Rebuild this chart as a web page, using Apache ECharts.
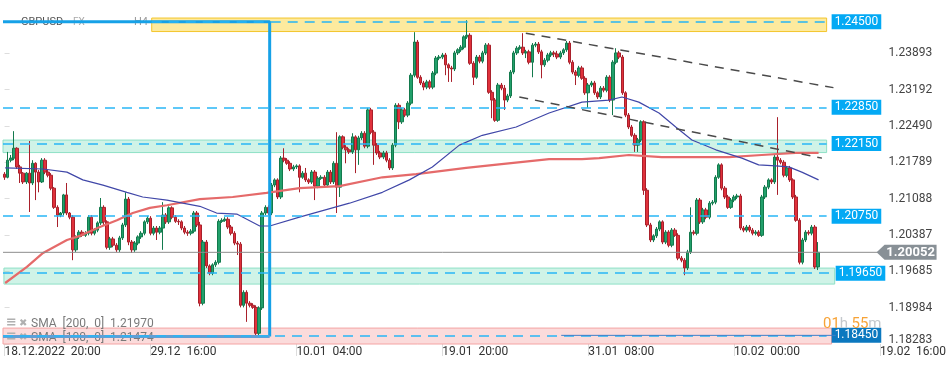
<!DOCTYPE html>
<html><head><meta charset="utf-8">
<script src="https://cdn.jsdelivr.net/npm/echarts@6/dist/echarts.min.js"></script>
<style>html,body{margin:0;padding:0;background:#fff}#c{width:949px;height:370px}</style>
</head><body><div id="c"></div>
<script>
// ---- data (GBPUSD, H4) ----
const firstOpen = 1.2156;
const closes = [
1.2150,1.2183,1.2187,1.2206,1.2170,1.2158,1.2141,1.2158,1.2139,1.2177,
1.2160,1.2141,1.2183,1.2160,1.2154,1.2129,1.2092,1.2077,1.2081,1.2116,
1.2081,1.2073,1.2010,1.2035,1.2044,1.2038,1.2042,1.2073,1.2042,1.2048,
1.2062,1.2092,1.2064,1.2015,1.2031,1.2019,1.2010,1.2033,1.2058,1.2108,
1.2025,1.2010,1.2023,1.2035,1.2042,1.2064,1.2071,1.2042,1.2052,1.2044,
1.2052,1.2077,1.2064,1.2091,1.2073,1.2065,1.2064,1.2052,1.2044,1.2042,
1.2046,1.2081,1.2058,1.1907,1.2025,1.1979,1.1965,1.1981,1.1986,1.2065,
1.2067,1.2069,1.2054,1.2042,1.2023,1.2021,1.1903,1.1928,1.1907,1.1903,
1.1899,1.1849,1.1898,1.2081,1.2092,1.2081,1.2135,1.2145,1.2112,1.2187,
1.2183,1.2177,1.2166,1.2170,1.2172,1.2150,1.2158,1.2145,1.2141,1.2160,
1.2133,1.2148,1.2150,1.2135,1.2160,1.2141,1.2177,1.2131,1.2228,1.2208,
1.2203,1.2199,1.2228,1.2203,1.2226,1.2235,1.2210,1.2280,1.2237,1.2212,
1.2197,1.2189,1.2197,1.2183,1.2168,1.2212,1.2289,1.2257,1.2280,1.2270,
1.2293,1.2347,1.2411,1.2343,1.2332,1.2324,1.2334,1.2324,1.2351,1.2380,
1.2382,1.2386,1.2367,1.2361,1.2359,1.2390,1.2396,1.2401,1.2421,1.2424,
1.2370,1.2343,1.2382,1.2374,1.2390,1.2405,1.2314,1.2299,1.2260,1.2328,
1.2322,1.2299,1.2307,1.2353,1.2390,1.2399,1.2401,1.2390,1.2392,1.2372,
1.2405,1.2407,1.2392,1.2367,1.2376,1.2386,1.2390,1.2388,1.2382,1.2390,
1.2396,1.2409,1.2372,1.2353,1.2347,1.2361,1.2341,1.2313,1.2328,1.2332,
1.2313,1.2305,1.2322,1.2318,1.2343,1.2299,1.2372,1.2390,1.2382,1.2313,
1.2270,1.2247,1.2231,1.2212,1.2222,1.2257,1.2125,1.2058,1.2029,1.2037,
1.2050,1.2064,1.2025,1.2044,1.2019,1.2048,1.2038,1.1994,1.1990,1.1975,
1.2006,1.2044,1.2042,1.2106,1.2064,1.2087,1.2073,1.2100,1.2102,1.2150,
1.2174,1.2129,1.2112,1.2092,1.2106,1.2112,1.2114,1.2052,1.2048,1.2054,
1.2048,1.2042,1.2044,1.2038,1.2112,1.2131,1.2145,1.2141,1.2189,1.2183,
1.2179,1.2154,1.2168,1.2145,1.2112,1.2067,1.1986,1.2029,1.2044,1.2042,
1.2054,1.1977,1.20052];
const highs = [
1.2160,1.2199,1.2193,1.2239,1.2208,1.2174,1.2160,1.2160,1.2220,1.2183,
1.2179,1.2164,1.2187,1.2187,1.2164,1.2158,1.2131,1.2096,1.2083,1.2118,
1.2139,1.2083,1.2077,1.2038,1.2048,1.2048,1.2046,1.2077,1.2077,1.2052,
1.2065,1.2110,1.2096,1.2067,1.2035,1.2035,1.2023,1.2037,1.2062,1.2121,
1.2112,1.2029,1.2027,1.2038,1.2046,1.2067,1.2075,1.2075,1.2056,1.2056,
1.2056,1.2102,1.2081,1.2094,1.2094,1.2077,1.2069,1.2067,1.2056,1.2048,
1.2050,1.2085,1.2085,1.2064,1.2029,1.2029,1.1982,1.1984,1.1990,1.2069,
1.2071,1.2073,1.2073,1.2058,1.2046,1.2027,1.2025,1.1932,1.1932,1.1911,
1.1907,1.1903,1.1901,1.2085,1.2096,1.2096,1.2139,1.2148,1.2148,1.2191,
1.2206,1.2187,1.2181,1.2174,1.2175,1.2175,1.2162,1.2168,1.2148,1.2164,
1.2164,1.2152,1.2154,1.2154,1.2164,1.2164,1.2181,1.2237,1.2231,1.2231,
1.2212,1.2206,1.2235,1.2231,1.2230,1.2239,1.2239,1.2284,1.2284,1.2241,
1.2216,1.2201,1.2201,1.2201,1.2187,1.2216,1.2293,1.2293,1.2284,1.2284,
1.2297,1.2351,1.2430,1.2415,1.2347,1.2336,1.2338,1.2338,1.2355,1.2384,
1.2386,1.2390,1.2390,1.2370,1.2365,1.2394,1.2399,1.2405,1.2424,1.2453,
1.2428,1.2374,1.2386,1.2386,1.2394,1.2409,1.2409,1.2318,1.2303,1.2332,
1.2332,1.2328,1.2311,1.2357,1.2394,1.2403,1.2405,1.2428,1.2396,1.2396,
1.2409,1.2411,1.2411,1.2396,1.2380,1.2390,1.2394,1.2394,1.2394,1.2394,
1.2399,1.2413,1.2413,1.2376,1.2357,1.2365,1.2365,1.2345,1.2332,1.2336,
1.2336,1.2316,1.2326,1.2326,1.2347,1.2347,1.2376,1.2399,1.2394,1.2386,
1.2316,1.2274,1.2251,1.2235,1.2226,1.2260,1.2260,1.2129,1.2062,1.2040,
1.2054,1.2067,1.2067,1.2048,1.2048,1.2052,1.2052,1.2042,1.1998,1.1994,
1.2010,1.2092,1.2048,1.2110,1.2110,1.2091,1.2091,1.2104,1.2106,1.2154,
1.2177,1.2177,1.2133,1.2116,1.2110,1.2116,1.2118,1.2118,1.2056,1.2058,
1.2058,1.2052,1.2048,1.2048,1.2116,1.2135,1.2148,1.2148,1.2193,1.2266,
1.2187,1.2183,1.2172,1.2172,1.2148,1.2116,1.2071,1.2033,1.2048,1.2048,
1.2058,1.2058,1.2025];
const lows = [
1.2145,1.2148,1.2179,1.2183,1.2166,1.2139,1.2137,1.2137,1.2083,1.2135,
1.2106,1.2121,1.2139,1.2156,1.2150,1.2125,1.2089,1.2054,1.2073,1.2077,
1.2077,1.2069,1.1990,1.2006,1.2031,1.2035,1.2035,1.2038,1.2038,1.2038,
1.2044,1.2058,1.2058,1.2011,1.2010,1.2015,1.2006,1.2006,1.2029,1.2054,
1.2019,1.2004,1.2006,1.2019,1.2031,1.2038,1.2060,1.2038,1.2038,1.2029,
1.2040,1.2010,1.2060,1.2060,1.2069,1.2062,1.2058,1.2048,1.2040,1.2037,
1.2038,1.2042,1.2054,1.1901,1.1903,1.1975,1.1961,1.1961,1.1977,1.1982,
1.2062,1.2064,1.2050,1.2038,1.2019,1.2000,1.1899,1.1899,1.1871,1.1899,
1.1896,1.1845,1.1845,1.1894,1.2077,1.2077,1.2077,1.2131,1.2108,1.2108,
1.2179,1.2174,1.2162,1.2162,1.2166,1.2121,1.2147,1.2141,1.2137,1.2137,
1.2106,1.2129,1.2145,1.2131,1.2131,1.2137,1.2137,1.2081,1.2112,1.2204,
1.2177,1.2195,1.2195,1.2158,1.2174,1.2222,1.2206,1.2206,1.2233,1.2174,
1.2193,1.2185,1.2185,1.2179,1.2164,1.2164,1.2208,1.2243,1.2253,1.2266,
1.2266,1.2289,1.2343,1.2340,1.2328,1.2318,1.2320,1.2320,1.2320,1.2347,
1.2376,1.2378,1.2347,1.2334,1.2334,1.2355,1.2386,1.2392,1.2397,1.2417,
1.2367,1.2328,1.2340,1.2370,1.2370,1.2386,1.2311,1.2264,1.2257,1.2257,
1.2318,1.2280,1.2295,1.2303,1.2349,1.2386,1.2396,1.2386,1.2380,1.2368,
1.2343,1.2401,1.2388,1.2341,1.2363,1.2372,1.2382,1.2382,1.2378,1.2378,
1.2386,1.2392,1.2368,1.2349,1.2328,1.2343,1.2338,1.2309,1.2284,1.2324,
1.2309,1.2301,1.2301,1.2314,1.2314,1.2295,1.2270,1.2368,1.2378,1.2309,
1.2266,1.2243,1.2228,1.2199,1.2199,1.2218,1.2116,1.2054,1.2025,1.2025,
1.2033,1.2046,1.2021,1.2021,1.2015,1.2015,1.2035,1.1990,1.1986,1.1961,
1.1971,1.2002,1.2038,1.2038,1.2060,1.2060,1.2069,1.2069,1.2096,1.2098,
1.2147,1.2125,1.2108,1.2089,1.2089,1.2102,1.2108,1.2048,1.2044,1.2044,
1.2044,1.2038,1.2038,1.2035,1.2035,1.2108,1.2127,1.2137,1.2137,1.2116,
1.2175,1.2150,1.2150,1.2141,1.2108,1.2064,1.1982,1.1982,1.2025,1.2038,
1.2038,1.1973,1.1971];

// moving averages: [bar, price]
const sma200 = [[0.2,1.1946],[7.2,1.1977],[12.4,1.2004],[20.1,1.2029],[24.3,1.2037],[30.7,1.2054],[36.2,1.2067],[41.3,1.2081],[46.8,1.2091],[52.3,1.2096],[62.9,1.2108],[73.5,1.2112],[84.4,1.2120],[95,1.2129],[107.9,1.2133],[121.7,1.2150],[132.6,1.2156],[148.7,1.2168],[159.3,1.2175],[175.4,1.2185],[186,1.2185],[191.5,1.2187],[201.1,1.2193],[211.7,1.2189],[222.7,1.2189],[233.3,1.2189],[243.9,1.2193],[254.8,1.2197],[262.2,1.2197]];
const sma100 = [[0.2,1.2168],[12.4,1.2166],[20.1,1.2160],[25.2,1.2145],[31.7,1.2135],[39.4,1.2121],[44.5,1.2112],[52.3,1.2106],[57.4,1.2100],[62.9,1.2094],[68.3,1.2081],[74.8,1.2079],[82.2,1.2056],[85.4,1.2056],[95,1.2073],[111.1,1.2100],[121.7,1.2121],[130.4,1.2145],[137.8,1.2170],[146.5,1.2212],[153.9,1.2231],[164.8,1.2247],[175.4,1.2274],[186,1.2295],[194.7,1.2299],[198.9,1.2305],[204.3,1.2295],[210.8,1.2274],[216.2,1.2247],[221.4,1.2222],[229.1,1.2203],[237.5,1.2187],[242.9,1.2174],[248.4,1.2172],[252.6,1.2170],[256.8,1.2160],[262.2,1.2145]];

const xTickBars = [0,47,94,141,188,235,282];
const xTickLabels = ['18.12.2022  20:00','29.12  16:00','10.01  04:00','19.01  20:00','31.01  08:00','10.02  00:00','19.02  16:00'];
const yTickValues = [1.18283,1.18984,1.19685,1.20387,1.21088,1.21789,1.22490,1.23192,1.23893];

const levelPrices = [1.2450,1.2285,1.2215,1.2075,1.1965,1.1845];
const levelFrom   = [47.4,-0.5,-0.5,-0.5,-0.5,-0.5];
const levelTo     = [264.8,264.8,264.8,264.8,266.1,264.8];

const zoneTop    = [1.24573,1.22218,1.19748,1.18590];
const zoneBottom = [1.24312,1.21977,1.19439,1.18200];
const zoneFrom   = [47.4,-0.5,-0.2,-0.5];
const zoneTo     = [264.8,264.8,267.4,266.4];

const upperTrend = [[167.9,1.2428],[267.0,1.2323]];
const lowerTrend = [[165.8,1.2305],[263.3,1.2187]];
const rangeTop = [[-0.5,1.2450],[85.4,1.2450],[85.4,1.1843]];
const rangeBottom = [[85.4,1.1843],[-0.5,1.1843]];
const thinLine = [[179.3,1.1845],[267.7,1.1845]];
const lastPrice = closes[closes.length-1];

// ---- chart ----
const chart = echarts.init(document.getElementById('c'));
const candles = closes.map((c,i)=>[i, i===0?firstOpen:closes[i-1], c, lows[i], highs[i]]);
const zoneStyles = [
  {color:'rgba(252,213,62,0.5)', borderColor:'#f3c52c', borderWidth:1},
  {color:'rgba(95,214,174,0.3)', borderColor:'#8ee0c6', borderWidth:1},
  {color:'rgba(95,214,174,0.3)', borderColor:'#8ee0c6', borderWidth:1},
  {color:'rgba(240,122,122,0.27)', borderColor:'#f4a3a3', borderWidth:1}
];
const labelColors = ['#03a9f4','#03a9f4','#03a9f4','#03a9f4','#03a9f4','#0b78bf'];

const option = {
  animation:false,
  textStyle:{fontFamily:'Roboto'},
  grid:{left:3,right:66,top:0,bottom:26},
  xAxis:{type:'value',min:-0.5,max:282.5,
    axisLine:{show:false},splitLine:{show:false},
    axisTick:{show:true,customValues:xTickBars,length:12,lineStyle:{color:'#dcdcdc'}},
    axisLabel:{customValues:xTickBars,align:'left',margin:2,fontSize:12,color:'#333',
      formatter:v=>xTickLabels[xTickBars.indexOf(Math.round(v))]||''}},
  yAxis:{type:'value',position:'right',min:1.18283,max:1.24921,
    axisLine:{show:false},splitLine:{show:false},
    axisTick:{show:true,customValues:yTickValues,length:5,lineStyle:{color:'#dddddd'}},
    axisLabel:{customValues:yTickValues,margin:7,fontSize:12,color:'#444',
      formatter:v=> v<1.1830 ? '{lo|'+v.toFixed(5)+'}' : v.toFixed(5),
      rich:{lo:{fontSize:12,color:'#444',padding:[0,0,8,0]}}}},
  series:[
    {type:'candlestick',data:candles,encode:{x:0,y:[1,2,3,4]},barWidth:3,clip:false,z:2,
      itemStyle:{color:'#22a06b',color0:'#e0313b',borderColor:'#137a4d',borderColor0:'#a9202b',borderWidth:1}},
    {type:'line',data:sma200,symbol:'none',z:3,smooth:false,
      lineStyle:{color:'#e56a6a',width:2.2}},
    {type:'line',data:sma100,symbol:'none',z:3,
      lineStyle:{color:'#4047a8',width:1.2}},
    // range frame
    {type:'line',data:rangeTop,symbol:'none',z:3,lineStyle:{color:'#16a1e7',width:3}},
    {type:'line',data:rangeBottom,symbol:'none',z:3,lineStyle:{color:'#5f9fd6',width:3}},
    // level dashed lines with right price tags
    {type:'line',data:[],symbol:'none',z:3,
      markLine:{silent:true,symbol:'none',
        data:levelPrices.map((p,i)=>[
          {name:p.toFixed(5),coord:[levelFrom[i],p],
           label:{backgroundColor:labelColors[i]}},
          {name:p.toFixed(5),coord:[levelTo[i],p]}]),
        lineStyle:{color:'#29b6f6',width:1.5,type:[10,7]},
        label:{show:true,position:'end',distance:5,formatter:'{b}',color:'#fff',fontSize:12,
          backgroundColor:'#03a9f4',padding:[2,3,1,3],lineHeight:12}}},
    // zones
    {type:'line',data:[],symbol:'none',z:4,
      markArea:{silent:true,
        data:zoneTop.map((t,i)=>[
          {coord:[zoneFrom[i],t],itemStyle:zoneStyles[i]},
          {coord:[zoneTo[i],zoneBottom[i]]}])}},
    // trend lines
    {type:'line',data:upperTrend,symbol:'none',z:5,lineStyle:{color:'#4a4a4a',width:1.5,type:[9,7]}},
    {type:'line',data:lowerTrend,symbol:'none',z:5,lineStyle:{color:'#4a4a4a',width:1.5,type:[9,7]}},
    {type:'line',data:thinLine,symbol:'none',z:5,lineStyle:{color:'#3f7fc8',width:1}},
    // current price line
    {type:'line',data:[[-0.5,lastPrice],[282.5,lastPrice]],symbol:'none',z:5,
      lineStyle:{color:'#8c8c8c',width:1}}
  ]
};
chart.setOption(option);

const pt = chart.convertToPixel({gridIndex:0},[282.5,lastPrice]);
const tipX = pt[0]-5, cy = pt[1];
chart.setOption({graphic:[
  {type:'polygon',z:10,shape:{points:[[tipX,cy],[tipX+8,cy-7.5],[tipX+60,cy-7.5],[tipX+60,cy+7.5],[tipX+8,cy+7.5]]},
   style:{fill:'#889096'}},
  {type:'text',z:11,x:tipX+34,y:cy,style:{text:lastPrice.toFixed(5),fill:'#fff',font:'bold 13px Roboto',align:'center',verticalAlign:'middle'}},
  {type:'text',z:1,x:21,y:22,style:{text:'GBPUSD',fill:'#555',font:'11px Roboto',verticalAlign:'middle'}},
  {type:'text',z:1,x:73,y:22,style:{text:'FX',fill:'#aaa',font:'10px Roboto',verticalAlign:'middle'}},
  {type:'text',z:1,x:92,y:22,style:{text:'—  —',fill:'#ddd',font:'10px Roboto',verticalAlign:'middle'}},
  {type:'text',z:1,x:134,y:22,style:{text:'H4',fill:'#999',font:'11px Roboto',verticalAlign:'middle'}},
  {type:'text',z:1,x:6,y:323,style:{text:'≡',fill:'#b0b0b0',font:'bold 13px DejaVu Sans',verticalAlign:'middle'}},
  {type:'text',z:1,x:19,y:323,style:{text:'✖',fill:'#b0b0b0',font:'10px DejaVu Sans',verticalAlign:'middle'}},
  {type:'text',z:1,x:31,y:324,style:{text:'SMA  [200,  0]  1.21970',fill:'#7a7a7a',font:'12px Roboto',verticalAlign:'middle'}},
  {type:'text',z:1,x:6,y:337,style:{text:'≡',fill:'#b0b0b0',font:'bold 13px DejaVu Sans',verticalAlign:'middle'}},
  {type:'text',z:1,x:19,y:337,style:{text:'✖',fill:'#b0b0b0',font:'10px DejaVu Sans',verticalAlign:'middle'}},
  {type:'text',z:1,x:31,y:338,style:{text:'SMA  [100,  0]  1.21474',fill:'#7a7a7a',font:'12px Roboto',verticalAlign:'middle'}},
  {type:'text',z:12,x:823,y:324,style:{text:'{a|01}{b|h} {a|55}{b|m}',verticalAlign:'middle',
    rich:{a:{fill:'#f7a337',font:'15px Roboto'},b:{fill:'#c4c8cc',font:'15px Roboto'}}}}
]});
</script>
</body></html>
